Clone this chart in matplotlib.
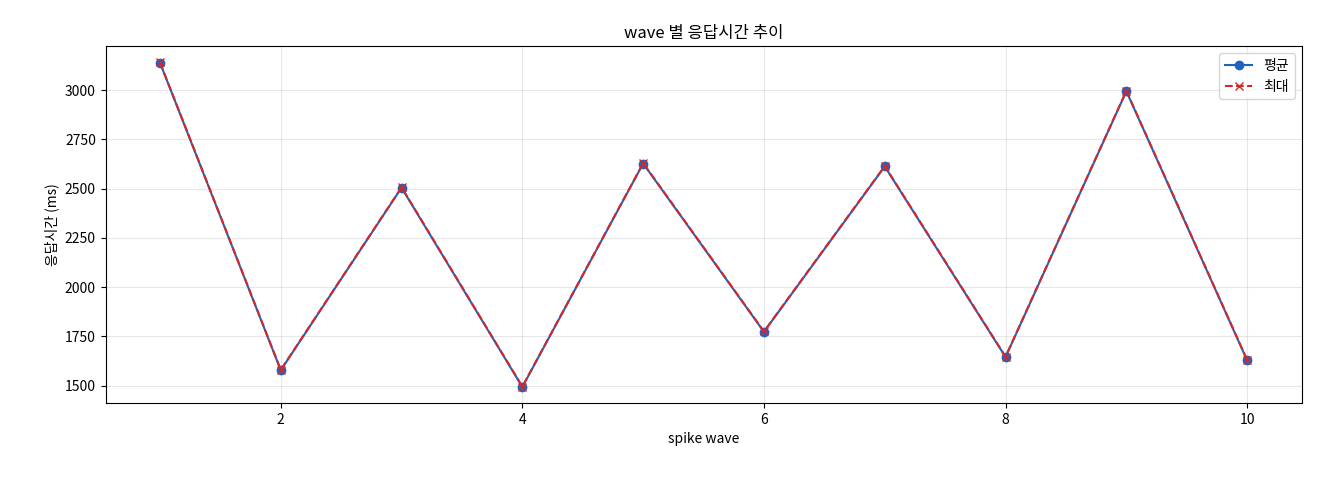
import matplotlib
matplotlib.use("Agg")
import matplotlib.pyplot as plt

plt.rcParams['font.family'] = ['Noto Sans CJK KR', 'DejaVu Sans']

waves = [1, 2, 3, 4, 5, 6, 7, 8, 9, 10]
avg_ms = [3140, 1578, 2505, 1493, 2628, 1773, 2613, 1645, 2995, 1628]
max_ms = [3142, 1580, 2507, 1495, 2630, 1775, 2615, 1647, 2997, 1630]

fig, ax = plt.subplots(figsize=(13.2, 4.8), dpi=100)
ax.plot(waves, avg_ms, marker='o', color='#1f63c0', label='평균')
ax.plot(waves, max_ms, marker='x', linestyle='--', color='#d62728', label='최대')

ax.set_title('wave 별 응답시간 추이')
ax.set_xlabel('spike wave')
ax.set_ylabel('응답시간 (ms)')
ax.grid(alpha=0.3)
ax.legend(loc='upper right')

plt.subplots_adjust(left=0.08, right=0.986, top=0.904, bottom=0.16)
fig.savefig('out.png')
